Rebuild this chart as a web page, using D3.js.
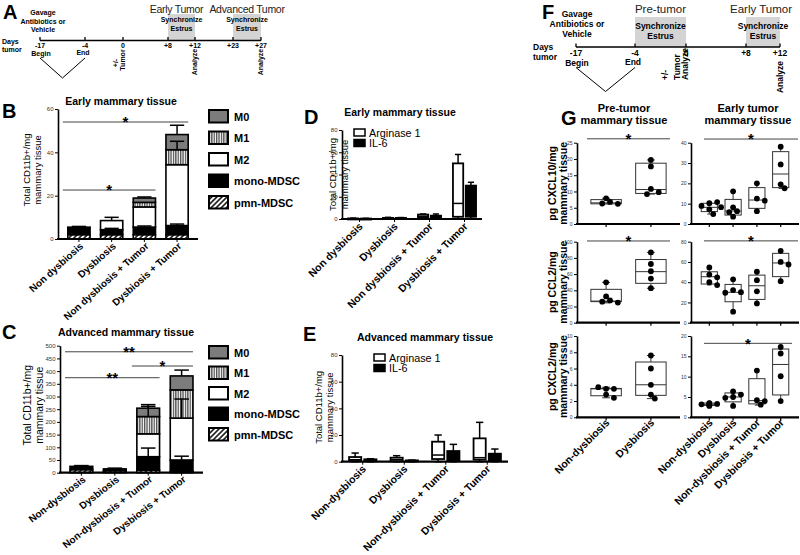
<!DOCTYPE html>
<html><head><meta charset="utf-8">
<script src="https://cdn.jsdelivr.net/npm/d3@7"></script>
<style>
body{margin:0;background:#fff;}
svg{display:block;font-family:"Liberation Sans",Arial,sans-serif;}
</style></head><body>
<svg id="fig" width="800" height="555"></svg>
<script>
// ---------------- DATA ----------------
const timelineADays = [-17, -4, 0, 8, 12, 23, 27];
const timelineALabels = ["-17", "-4", "0", "+8", "+12", "+23", "+27"];
const timelineAWindows = [[8, 12], [23, 27]];
const timelineAWindowTitles = ["Early Tumor", "Advanced Tumor"];
const timelineFDays = [-17, -4, 0, 8, 12];
const timelineFLabels = ["-17", "-4", "0", "+8", "+12"];
const timelineFWindows = [[-4, 0], [8, 12]];
const timelineFWindowTitles = ["Pre-tumor", "Early Tumor"];

const cellTypes = ["M0", "M1", "M2", "mono-MDSC", "pmn-MDSC"];
const earlyGroups = ["Non dysbiosis", "Dysbiosis", "Non dysbiosis + Tumor", "Dysbiosis + Tumor"];
const advancedGroups = ["Non-dysbiosis", "Dysbiosis", "Non-dysbiosis + Tumor", "Dysbiosis + Tumor"];

// stacked segment heights (cells / mg)
const earlyPmn  = [2, 2, 2, 2];
const earlyMono = [3.3, 2.3, 3.5, 4.2];
const earlyM2   = [0.1, 4.2, 9.3, 28.1];
const earlyM1   = [0, 0, 2.1, 6.9];
const earlyM0   = [0, 0, 2.0, 7.0];
const earlySemMono = [0, 0.6, 0.5, 0.7];
const earlySemM2   = [0, 1.5, 0, 0];
const earlySemM1   = [0, 0, 0, 3.9];
const earlySemM0   = [0.4, 0, 0.5, 4.3];

const advPmn  = [12, 8, 10, 5];
const advMono = [13, 7, 53, 45];
const advM2   = [0, 0, 90, 165];
const advM1   = [0, 0, 68, 111];
const advM0   = [0, 0, 33, 55];
const advSemMono = [3, 3, 34, 15];
const advSemM2   = [0, 0, 0, 75];
const advSemM1   = [0, 0, 40, 0];
const advSemM0   = [0, 0, 14, 23];

// D / E : [min, q1, median, q3, max]
const markers = ["Arginase 1", "IL-6"];
const earlyArg1 = [[0, 0, 0.2, 0.5, 0.8], [0, 0.2, 0.5, 1, 1.5], [1, 1.5, 2.5, 4, 4.5], [0, 2, 14, 50, 58]];
const earlyIL6  = [[0, 0, 0.2, 0.4, 0.6], [0, 0.2, 0.5, 1, 1.3], [0, 0.5, 2, 3, 4.5], [0, 2, 20, 30, 33]];
const advArg1   = [[0, 0.5, 1.5, 3.5, 6.5], [0, 0.3, 1.5, 3, 4.5], [0, 2, 5, 15, 20], [0, 1.5, 3, 17.5, 29.5]];
const advIL6    = [[0, 0.3, 1, 1.8, 2.2], [0, 0.2, 0.5, 1, 1.2], [0, 0.5, 4, 8, 13], [0, 0.5, 2, 6, 9.5]];

// G
const gPreGroups = ["Non-dysbiosis", "Dysbiosis"];
const gEarlyGroups = ["Non-dysbiosis", "Dysbiosis", "Non-dysbiosis + Tumor", "Dysbiosis + Tumor"];
const gRowLabels = ["pg CXCL10/mg", "pg CCL2/mg", "pg CXCL2/mg"];
const cxcl10PreBox = [[6.2, 6.2, 6.5, 7.5, 7.9], [9.2, 9.4, 10.6, 18.7, 19.7]];
const cxcl10PrePts = [[7.9, 6.8, 6.3, 6.2], [19.7, 17.7, 10.8, 9.8, 9.2]];
const cxcl10EarlyBox = [[4.9, 6.1, 8.2, 10.2, 10.8], [3.6, 4.4, 6.4, 12.1, 16.1], [6.3, 7.7, 11.8, 17.9, 20], [17.5, 17.9, 24.6, 35.6, 38]];
const cxcl10EarlyPts = [[10.2, 10.8, 8.9, 7.2, 4.9, 8.3], [16.1, 8.2, 6.3, 5.8, 3.6], [20, 12.5, 11.5, 6.3], [38, 29.3, 19.5, 17.6]];
const ccl2PreBox = [[24.5, 26, 26.7, 41.2, 49.8], [42.5, 48.6, 63, 78, 86.8]];
const ccl2PrePts = [[49.8, 32.5, 27.5, 26, 24.8], [86.8, 72.5, 63.5, 54.5, 42.6]];
const ccl2EarlyBox = [[37.2, 38.2, 45.4, 50.3, 54.6], [10.9, 20.7, 30, 37.8, 42.8], [19, 23, 36.5, 47, 50.3], [41, 45.5, 59, 68.5, 71]];
const ccl2EarlyPts = [[54.6, 47.5, 44.8, 40, 37.2], [42.8, 32.2, 30.1, 29.6, 10.9], [50.3, 42, 31, 19], [71, 60, 57.5, 41]];
const cxcl2PreBox = [[2.4, 2.65, 3.5, 3.55, 3.7], [2.3, 2.7, 4.0, 6.8, 7.6]];
const cxcl2PrePts = [[3.5, 3.5, 3.7, 2.8, 2.4], [7.6, 6.0, 4.0, 2.8, 2.3]];
const cxcl2EarlyBox = [[2.7, 2.9, 3.2, 3.5, 3.6], [2.8, 3.8, 5.0, 6.0, 6.4], [3.0, 3.3, 4.1, 9.5, 11.6], [4.0, 5.5, 13, 16.8, 17.4]];
const cxcl2EarlyPts = [[3.5, 3.3, 3.2, 3.0, 2.8, 3.4], [6.4, 5.6, 5.0, 4.8, 2.8], [11.5, 4.2, 4.0, 3.1], [17.3, 15.7, 10.1, 4.0]];

// ---------------- DRAWING ----------------
const svg = d3.select("#fig");
const defs = svg.append("defs");
const vs = defs.append("pattern").attr("id", "vstripe").attr("patternUnits", "userSpaceOnUse").attr("width", 2.4).attr("height", 4);
vs.append("rect").attr("width", 2.4).attr("height", 4).attr("fill", "#fff");
vs.append("line").attr("x1", 0.7).attr("x2", 0.7).attr("y1", 0).attr("y2", 4).attr("stroke", "#000").attr("stroke-width", 0.9);
const ht = defs.append("pattern").attr("id", "hatch").attr("patternUnits", "userSpaceOnUse").attr("width", 3.6).attr("height", 3.6).attr("patternTransform", "rotate(45)");
ht.append("rect").attr("width", 3.6).attr("height", 3.6).attr("fill", "#fff");
ht.append("line").attr("x1", 1).attr("x2", 1).attr("y1", 0).attr("y2", 3.6).attr("stroke", "#000").attr("stroke-width", 1.5);

const fills = {"M0": "#7c7c7c", "M1": "url(#vstripe)", "M2": "#fff", "mono-MDSC": "#000", "pmn-MDSC": "url(#hatch)"};

function txt(g, x, y, s, o = {}) {
  const t = g.append("text").attr("x", x).attr("y", y).text(s)
    .attr("font-size", o.size || 10).attr("font-weight", o.bold ? "bold" : "normal")
    .attr("text-anchor", o.anchor || "start").attr("fill", o.fill || "#000");
  if (o.rotate != null) t.attr("transform", `rotate(${o.rotate},${x},${y})`);
  if (o.ls != null) t.attr("letter-spacing", o.ls);
  return t;
}

// panel letters
[["A", 3, 19], ["B", 2, 118], ["C", 2, 339], ["D", 304, 124], ["E", 303, 341], ["F", 542, 19], ["G", 561, 125]]
  .forEach(([l, x, y]) => txt(svg, x, y, l, {size: 20, bold: true}));

// ---------- timelines ----------
function timeline(cfg) {
  const g = svg.append("g");
  const x = d3.scaleLinear().domain(cfg.days).range(cfg.xs);
  cfg.windows.forEach((w, i) => {
    g.append("rect").attr("x", x(w[0])).attr("width", x(w[1]) - x(w[0]))
      .attr("y", cfg.boxTop).attr("height", cfg.lineY - cfg.boxTop).attr("fill", "#d4d4d4");
    const cx = (x(w[0]) + x(w[1])) / 2;
    txt(g, cx + cfg.titleDx[i], cfg.titleY, cfg.titles[i], {size: cfg.titleSize, anchor: "middle", fill: "#222", ls: cfg.titleLs});
    txt(g, cx, cfg.syncY, "Synchronize", {size: cfg.fs, bold: true, anchor: "middle"});
    txt(g, cx, cfg.syncY + cfg.lh, "Estrus", {size: cfg.fs, bold: true, anchor: "middle"});
  });
  g.append("line").attr("x1", x(cfg.days[0])).attr("x2", x(cfg.days[cfg.days.length - 1]))
    .attr("y1", cfg.lineY).attr("y2", cfg.lineY).attr("stroke", "#000").attr("stroke-width", 1.6);
  cfg.days.forEach((d, i) => {
    g.append("line").attr("x1", x(d)).attr("x2", x(d)).attr("y1", cfg.lineY).attr("y2", cfg.lineY - 3.5).attr("stroke", "#000").attr("stroke-width", 1.3);
    txt(g, x(d), cfg.lineY + cfg.fs + 0.5, cfg.labels[i], {size: cfg.fs, bold: true, anchor: "middle"});
  });
  const gx = x(cfg.days[0]);
  ["Gavage", "Antibiotics or", "Vehicle"].forEach((s, i) => txt(g, gx + cfg.gavDx, cfg.gavY + i * cfg.lh, s, {size: cfg.fs, bold: true, anchor: "middle"}));
  txt(g, cfg.daysX, cfg.lineY + 3, "Days", {size: cfg.fs, bold: true});
  txt(g, cfg.daysX, cfg.lineY + 3 + cfg.lh, "tumor", {size: cfg.fs, bold: true});
  txt(g, x(-17) + 1, cfg.lineY + cfg.fs + cfg.lh, "Begin", {size: cfg.fs, bold: true, anchor: "middle"});
  txt(g, x(-4) - 2, cfg.lineY + cfg.fs + cfg.lh - 1, "End", {size: cfg.fs, bold: true, anchor: "middle"});
  const vTop = cfg.lineY + cfg.fs + cfg.lh + 2;
  g.append("path").attr("d", `M${x(-17)},${vTop}L${(x(-17) + x(-4)) / 2},${vTop + cfg.vDepth}L${x(-4)},${vTop}`)
    .attr("fill", "none").attr("stroke", "#000").attr("stroke-width", 1);
  cfg.rot.forEach(([d, dx, cy, s]) => txt(g, x(d) + dx, cy, s, {size: cfg.fs, bold: true, anchor: "middle", rotate: -90}));
}
timeline({days: timelineADays, labels: timelineALabels, xs: [40, 85, 123, 168, 195, 233, 261],
  windows: timelineAWindows, titles: timelineAWindowTitles, titleDx: [-5, 0], titleLs: -0.3, lineY: 40.5, boxTop: 14, titleY: 12.5, titleSize: 10.5,
  syncY: 22, lh: 8.5, fs: 7, gavDx: 3, gavY: 15, daysX: 2, vDepth: 20,
  rot: [[0, -5, 63, "+/-"], [0, 2, 60, "Tumor"], [12, 2, 62, "Analyze"], [27, 2, 62, "Analyze"]]});
timeline({days: timelineFDays, labels: timelineFLabels, xs: [576, 635, 686, 746, 780],
  windows: timelineFWindows, titles: timelineFWindowTitles, titleDx: [0, -2], titleLs: 0, lineY: 47, boxTop: 17, titleY: 13, titleSize: 11.5,
  syncY: 28.5, lh: 10, fs: 8.5, gavDx: 1, gavY: 17, daysX: 533, vDepth: 24,
  rot: [[0, -18, 75, "+/-"], [0, -6, 67, "Tumor"], [0, 2, 64, "Analyze"], [12, 3, 77, "Analyze"]]});

// ---------- helpers ----------
function yAxis(g, y, ticks, x0, fs) {
  const ax = g.append("g").attr("transform", `translate(${x0},0)`)
    .call(d3.axisLeft(y).tickValues(ticks).tickSize(3).tickSizeOuter(0).tickPadding(1.5));
  ax.select(".domain").attr("stroke-width", 1.6);
  ax.selectAll(".tick line").attr("stroke-width", 1);
  ax.selectAll("text").attr("font-size", fs || 6).attr("fill", "#333").attr("font-family", "Liberation Sans, Arial");
}
function xBase(g, x0, x1, y0) {
  g.append("line").attr("x1", x0 - 1).attr("x2", x1).attr("y1", y0).attr("y2", y0).attr("stroke", "#000").attr("stroke-width", 2.2);
}
function rotLabels(g, centers, labels, y0, fs, dx, dy, ang) {
  labels.forEach((s, i) => txt(g, centers[i] + dx, y0 + dy, s, {size: fs, bold: true, anchor: "end", rotate: -(ang || 45)}));
}
function star(g, x0, x1, yy, s, fs) {
  g.append("line").attr("x1", x0).attr("x2", x1).attr("y1", yy).attr("y2", yy).attr("stroke", "#444").attr("stroke-width", 1);
  txt(g, (x0 + x1) / 2, yy + (fs || 15) * 0.36, s, {size: fs || 15, bold: true, anchor: "middle"});
}
function yTitle(g, x, y, lines, fs, gap, bold) {
  lines.forEach((s, i) => txt(g, x + i * gap, y, s, {size: fs, anchor: "middle", rotate: -90, bold: bold}));
}

// ---------- stacked bar panels (B, C) ----------
function stackedPanel(cfg) {
  const g = svg.append("g");
  const x = d3.scaleBand().domain(cfg.groups).range(cfg.xRange).paddingInner(0.32).paddingOuter(0.3);
  const y = d3.scaleLinear().domain(cfg.yDomain).range(cfg.yRange);
  const keys = ["pmn-MDSC", "mono-MDSC", "M2", "M1", "M0"];
  const rows = cfg.groups.map((grp, i) => { const r = {group: grp}; keys.forEach(k => r[k] = cfg.layers[k][i]); return r; });
  const series = d3.stack().keys(keys)(rows);
  series.forEach(s => {
    g.append("g").selectAll("rect").data(s.filter(d => d[1] > d[0])).join("rect")
      .attr("x", d => x(d.data.group)).attr("width", x.bandwidth())
      .attr("y", d => y(d[1])).attr("height", d => y(d[0]) - y(d[1]))
      .attr("fill", fills[s.key]).attr("stroke", "#000").attr("stroke-width", 1.6);
  });
  series.forEach(s => {
    const sem = cfg.sem[s.key];
    if (!sem) return;
    s.forEach((d, i) => {
      if (!sem[i]) return;
      const cx = x(d.data.group) + x.bandwidth() / 2, cw = x.bandwidth() * 0.32;
      g.append("line").attr("x1", cx).attr("x2", cx).attr("y1", y(d[1])).attr("y2", y(d[1] + sem[i])).attr("stroke", "#000").attr("stroke-width", 1.5);
      g.append("line").attr("x1", cx - cw).attr("x2", cx + cw).attr("y1", y(d[1] + sem[i])).attr("y2", y(d[1] + sem[i])).attr("stroke", "#000").attr("stroke-width", 1.5);
    });
  });
  yAxis(g, y, cfg.yTicks, cfg.xRange[0], 6);
  xBase(g, cfg.xRange[0], cfg.xRange[1], y(0));
  const centers = cfg.groups.map(d => x(d) + x.bandwidth() / 2);
  centers.forEach(c => g.append("line").attr("x1", c).attr("x2", c).attr("y1", y(0)).attr("y2", y(0) + 3).attr("stroke", "#000").attr("stroke-width", 1));
  rotLabels(g, centers, cfg.groups, y(0), cfg.labFs, 5, 8, cfg.labAng);
  cfg.stars.forEach(([a, b, v, s]) => star(g, x(cfg.groups[a]) - 5, x(cfg.groups[b]) + x.bandwidth(), y(v), s, 15));
  txt(g, cfg.titleX, cfg.titleY, cfg.title, {size: 10.5, bold: true, anchor: "middle"});
  yTitle(g, cfg.ytX, (cfg.yRange[0] + cfg.yRange[1]) / 2 + cfg.ytDy, ["Total CD11b+/mg", "mammary tissue"], cfg.ytFs, cfg.ytGap);
  // legend
  cellTypes.forEach((k, i) => {
    const ly = cfg.legY + i * cfg.legStep;
    g.append("rect").attr("x", cfg.legX).attr("y", ly).attr("width", 19).attr("height", 12.5)
      .attr("fill", fills[k]).attr("stroke", "#000").attr("stroke-width", 2);
    txt(g, cfg.legX + 25, ly + 10.5, k, {size: 11, bold: true});
  });
}
stackedPanel({groups: earlyGroups, xRange: [58, 198], yDomain: [0, 60], yRange: [239, 109], yTicks: [0, 20, 40, 60],
  layers: {"pmn-MDSC": earlyPmn, "mono-MDSC": earlyMono, "M2": earlyM2, "M1": earlyM1, "M0": earlyM0},
  sem: {"mono-MDSC": earlySemMono, "M2": earlySemM2, "M1": earlySemM1, "M0": earlySemM0},
  stars: [[0, 3, 54, "*"], [0, 2, 22.6, "*"]], title: "Early mammary tissue", titleX: 121, titleY: 105,
  ytX: 30, ytDy: -4, ytFs: 9.5, ytGap: 11, legX: 209, legY: 110, legStep: 21.5, labFs: 10, labAng: 42});
stackedPanel({groups: advancedGroups, xRange: [60, 203], yDomain: [0, 500], yRange: [472.7, 345.7], yTicks: d3.range(0, 501, 50),
  layers: {"pmn-MDSC": advPmn, "mono-MDSC": advMono, "M2": advM2, "M1": advM1, "M0": advM0},
  sem: {"mono-MDSC": advSemMono, "M2": advSemM2, "M1": advSemM1, "M0": advSemM0},
  stars: [[0, 3, 476, "**"], [2, 3, 420, "*"], [0, 2, 374, "**"]], title: "Advanced mammary tissue", titleX: 126, titleY: 336,
  ytX: 31, ytDy: -4, ytFs: 10.5, ytGap: 12, legX: 209, legY: 346, legStep: 20.5, labFs: 10, labAng: 38});

// ---------- grouped box panels (D, E) ----------
function pairPanel(cfg) {
  const g = svg.append("g");
  const x = d3.scaleBand().domain(cfg.groups).range(cfg.xRange);
  const xi = d3.scaleBand().domain(markers).range([x.bandwidth() * 0.17, x.bandwidth() * 0.83]).paddingInner(0.2);
  const y = d3.scaleLinear().domain([0, 80]).range(cfg.yRange);
  const sets = [cfg.arg, cfg.il6];
  markers.forEach((m, mi) => {
    sets[mi].forEach((b, gi) => {
      const x0 = x(cfg.groups[gi]) + xi(m), w = xi.bandwidth(), cx = x0 + w / 2, cw = w * 0.3;
      const col = mi === 0 ? "#fff" : "#000";
      [[b[3], b[4]], [b[1], b[0]]].forEach(([a, e]) => {
        g.append("line").attr("x1", cx).attr("x2", cx).attr("y1", y(a)).attr("y2", y(e)).attr("stroke", "#000").attr("stroke-width", 1.5);
        g.append("line").attr("x1", cx - cw).attr("x2", cx + cw).attr("y1", y(e)).attr("y2", y(e)).attr("stroke", "#000").attr("stroke-width", 1.5);
      });
      g.append("rect").attr("x", x0).attr("width", w).attr("y", y(b[3])).attr("height", Math.max(1, y(b[1]) - y(b[3])))
        .attr("fill", col).attr("stroke", "#000").attr("stroke-width", 1.8);
      g.append("line").attr("x1", x0).attr("x2", x0 + w).attr("y1", y(b[2])).attr("y2", y(b[2])).attr("stroke", "#000").attr("stroke-width", 1.5);
    });
  });
  yAxis(g, y, [0, 20, 40, 60, 80], cfg.xRange[0], 6);
  xBase(g, cfg.xRange[0], cfg.xRange[1], y(0));
  const centers = cfg.groups.map(d => x(d) + x.bandwidth() / 2);
  centers.forEach(c => g.append("line").attr("x1", c).attr("x2", c).attr("y1", y(0)).attr("y2", y(0) + 3).attr("stroke", "#000").attr("stroke-width", 1));
  rotLabels(g, centers, cfg.groups, y(0), 10.5, 4, 8, 45);
  if (cfg.title) txt(g, cfg.titleX, cfg.titleY, cfg.title, {size: 10.5, bold: true, anchor: "middle"});
  yTitle(g, cfg.ytX, (cfg.yRange[0] + cfg.yRange[1]) / 2 + cfg.ytDy, ["Total CD11b+/mg", "mammary tissue"], 9.5, 11.5);
  markers.forEach((m, i) => {
    const ly = cfg.legY + i * 10.5;
    g.append("rect").attr("x", cfg.legX).attr("y", ly).attr("width", 11).attr("height", 7)
      .attr("fill", i === 0 ? "#fff" : "#000").attr("stroke", "#000").attr("stroke-width", 1.5);
    txt(g, cfg.legX + 15, ly + 7.5, m, {size: 10.8});
  });
}
pairPanel({groups: earlyGroups, xRange: [342, 482], yRange: [219, 130], arg: earlyArg1, il6: earlyIL6,
  title: "Early mammary tissue", titleX: 400, titleY: 116, ytX: 336, ytDy: 0, legX: 354, legY: 129});
pairPanel({groups: advancedGroups, xRange: [342, 508], yRange: [461.7, 355], arg: advArg1, il6: advIL6,
  title: "Advanced mammary tissue", titleX: 425, titleY: 341, ytX: 322, ytDy: -1, legX: 374, legY: 354});

// ---------- G box plots ----------
function dotPanel(cfg) {
  const g = svg.append("g");
  const x = d3.scalePoint().domain(cfg.groups).range(cfg.xRange).padding(cfg.pad);
  const y = d3.scaleLinear().domain(cfg.yDomain).range(cfg.yRange);
  const w = x.step() * 0.68;
  cfg.boxes.forEach((b, i) => {
    const cx = x(cfg.groups[i]), cw = w * 0.13;
    [[b[3], b[4]], [b[1], b[0]]].forEach(([a, e]) => {
      g.append("line").attr("x1", cx).attr("x2", cx).attr("y1", y(a)).attr("y2", y(e)).attr("stroke", "#333").attr("stroke-width", 1);
      g.append("line").attr("x1", cx - cw).attr("x2", cx + cw).attr("y1", y(e)).attr("y2", y(e)).attr("stroke", "#333").attr("stroke-width", 1);
    });
    g.append("rect").attr("x", cx - w / 2).attr("width", w).attr("y", y(b[3])).attr("height", y(b[1]) - y(b[3]))
      .attr("fill", "#fff").attr("stroke", "#333").attr("stroke-width", 1);
    g.append("line").attr("x1", cx - w / 2).attr("x2", cx + w / 2).attr("y1", y(b[2])).attr("y2", y(b[2])).attr("stroke", "#333").attr("stroke-width", 1);
    const placed = [];
    const r = 2.9;
    cfg.points[i].forEach(v => {
      const py = y(v);
      const cands = [0, 1, -1, 2, -2, 3, -3].map(k => k * r * 1.35);
      let ox = cands.find(o => placed.every(p => Math.hypot(p[0] - o, p[1] - py) > 2 * r - 0.5));
      if (ox === undefined) ox = 0;
      placed.push([ox, py]);
      g.append("circle").attr("cx", cx + ox).attr("cy", py).attr("r", r).attr("fill", "#000");
    });
  });
  yAxis(g, y, cfg.yTicks, cfg.xRange[0], 5);
  xBase(g, cfg.xRange[0], cfg.xRange[1], y(0));
  cfg.groups.forEach(d => g.append("line").attr("x1", x(d)).attr("x2", x(d)).attr("y1", y(0)).attr("y2", y(0) + 3).attr("stroke", "#000").attr("stroke-width", 1.2));
  if (cfg.labels) rotLabels(g, cfg.groups.map(d => x(d)), cfg.groups, y(0), 10.5, 4, 6, 45);
  if (cfg.star) star(g, cfg.xRange[0] + cfg.starInset[0], cfg.xRange[1] - cfg.starInset[1], y(cfg.star), "*", 15);
}
const gLeft = [577, 680], gRight = [691, 799];
const gRows = [[224, 142.7], [322.7, 241.7], [417.3, 336]];
const preBoxes = [cxcl10PreBox, ccl2PreBox, cxcl2PreBox], prePts = [cxcl10PrePts, ccl2PrePts, cxcl2PrePts];
const earlyBoxes = [cxcl10EarlyBox, ccl2EarlyBox, cxcl2EarlyBox], earlyPts = [cxcl10EarlyPts, ccl2EarlyPts, cxcl2EarlyPts];
const preMax = [25, 100, 10], earlyMax = [40, 80, 20];
const preTickStep = [5, 20, 2], earlyTickStep = [10, 20, 5];
const preStar = [26.2, 100.9, null], earlyStar = [41.8, 80.8, 18.2];
gRows.forEach((rr, i) => {
  dotPanel({groups: gPreGroups, xRange: gLeft, pad: 0.65, yDomain: [0, preMax[i]], yRange: rr,
    yTicks: d3.range(0, preMax[i] + 0.001, preTickStep[i]), boxes: preBoxes[i], points: prePts[i],
    labels: i === 2, star: preStar[i], starInset: [10, 10]});
  dotPanel({groups: gEarlyGroups, xRange: gRight, pad: 0.77, yDomain: [0, earlyMax[i]], yRange: rr,
    yTicks: d3.range(0, earlyMax[i] + 0.001, earlyTickStep[i]), boxes: earlyBoxes[i], points: earlyPts[i],
    labels: i === 2, star: earlyStar[i], starInset: [13, i === 2 ? 7 : 1]});
  yTitle(svg, 556, (rr[0] + rr[1]) / 2, [gRowLabels[i], "mammary tissue"], 10.5, 11.5, true);
});
txt(svg, 624, 112, "Pre-tumor", {size: 11, bold: true, anchor: "middle"});
txt(svg, 624, 124, "mammary tissue", {size: 11, bold: true, anchor: "middle"});
txt(svg, 748, 112, "Early tumor", {size: 11, bold: true, anchor: "middle"});
txt(svg, 748, 124, "mammary tissue", {size: 11, bold: true, anchor: "middle"});
</script></body></html>
